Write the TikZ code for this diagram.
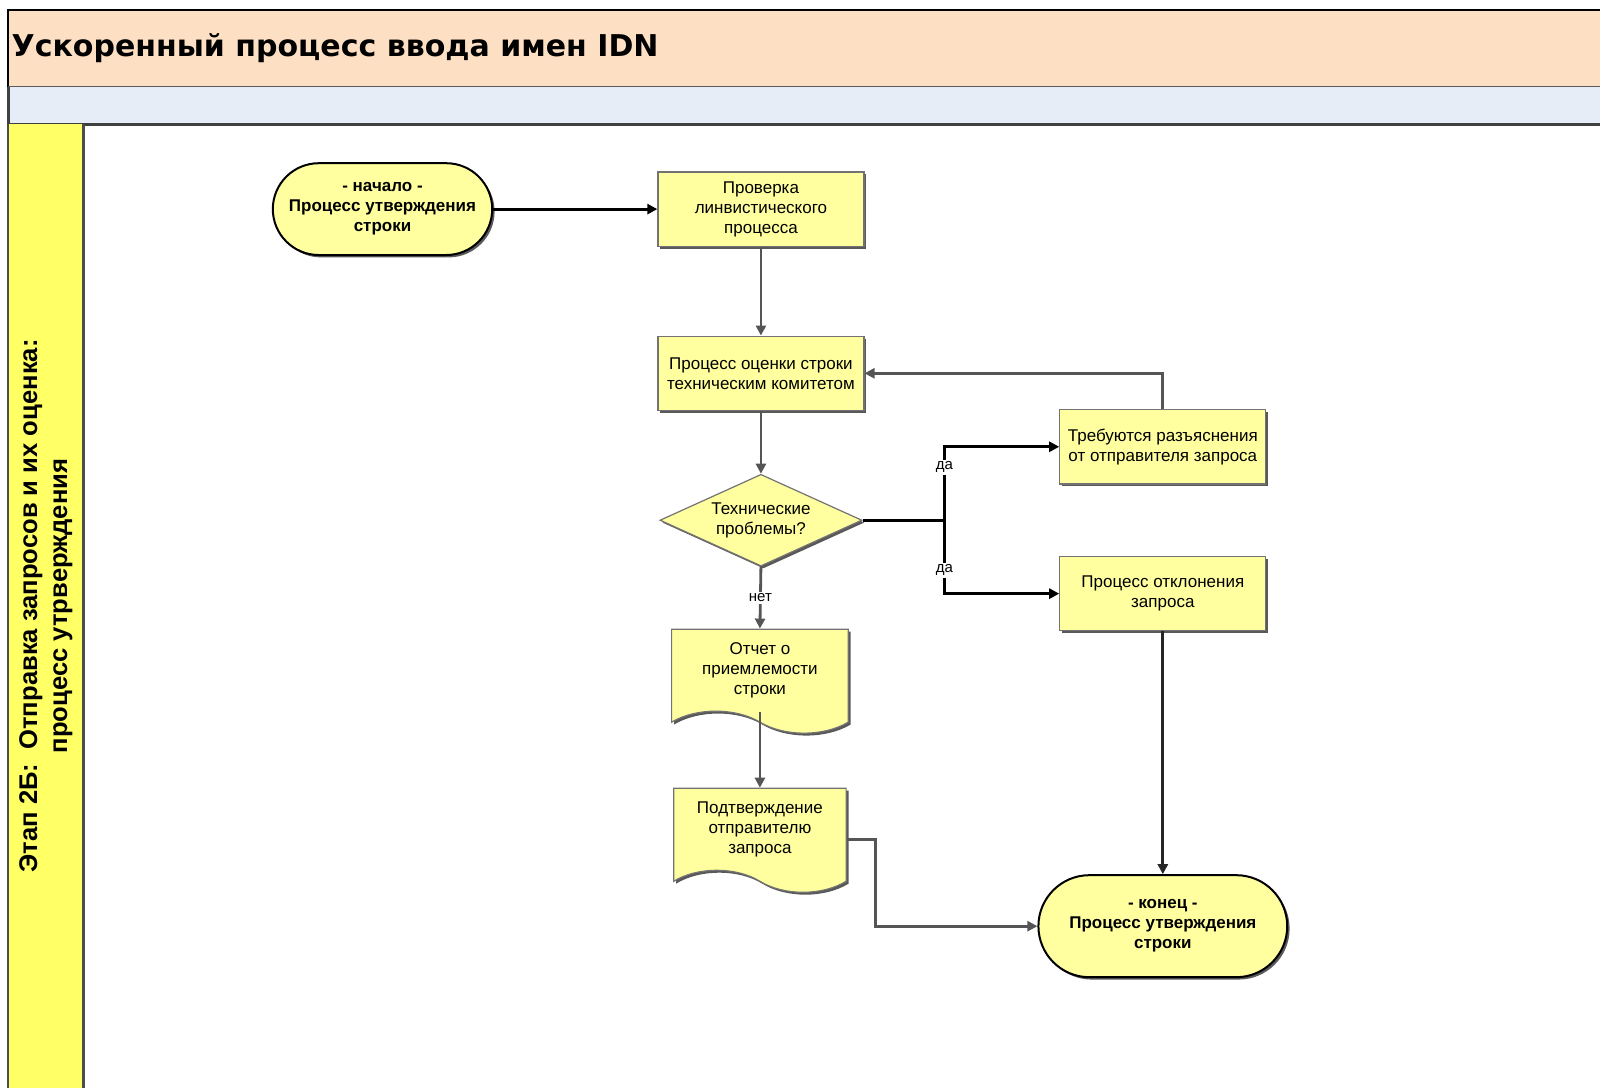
\documentclass[tikz,border=0pt]{standalone}
\usepackage{fontspec}
\setmainfont{Liberation Sans}
\newfontfamily\titlefont{DejaVu Sans}
\usetikzlibrary{shapes.geometric,shapes.symbols,shadows,arrows.meta,calc}

\definecolor{boxfill}{RGB}{255,255,160}
\definecolor{lanefill}{RGB}{255,255,102}
\definecolor{titlefill}{RGB}{253,224,196}
\definecolor{bandfill}{RGB}{230,237,247}
\definecolor{linkgray}{RGB}{85,85,85}

\tikzset{
  boxshadow/.style={drop shadow={shadow xshift=1.2pt,shadow yshift=-1.2pt,fill=black!65,opacity=1}},
  proc/.style={rectangle, draw=black!55, line width=0.6pt, fill=boxfill, boxshadow,
    minimum width=103pt, minimum height=37.2pt, inner sep=2pt, align=center,
    font=\fontsize{8.5}{10}\selectfont},
  term/.style={rectangle, rounded corners=23pt, draw=black, line width=1pt, fill=boxfill, boxshadow,
    minimum width=109.7pt, minimum height=45.9pt, align=center,
    font=\bfseries\fontsize{8.5}{10}\selectfont},
  doc/.style={tape, tape bend top=none, tape bend bottom=out and in, tape bend height=11pt,
    draw=black!55, line width=0.6pt, fill=boxfill, boxshadow,
    minimum height=52pt, inner sep=2pt, align=center,
    font=\fontsize{8.5}{10}\selectfont},
  decision/.style={diamond, aspect=2.2, draw=black!55, line width=0.6pt, fill=boxfill, boxshadow,
    minimum width=101pt, minimum height=45.9pt, inner sep=0pt, align=center,
    font=\fontsize{8.5}{10}\selectfont},
  link/.style={draw=black, line width=1.4pt, -{Triangle[length=5pt,width=5pt]}},
  glink/.style={link, draw=linkgray},
  lbl/.style={fill=white, inner sep=1pt, font=\fontsize{7.5}{9}\selectfont}
}

\begin{document}
\begin{tikzpicture}[x=0.51pt,y=0.51pt,yscale=-1,xscale=1]
\useasboundingbox (0,0) rectangle (1568.6,1066.7);

%Shape: Title band
\fill[titlefill] (8,10) rectangle (1568.6,85);
\draw[line width=1pt] (8,85) -- (8,10) -- (1568.6,10);
\draw[line width=1pt, draw=black!65] (8,85) -- (1568.6,85);
% Text Node
\node[anchor=base west, inner sep=0pt, font=\titlefont\bfseries\fontsize{15}{17}\selectfont] (title) at (11,55) {Ускоренный процесс ввода имен IDN};

%Shape: Light band
\fill[bandfill] (8,85) rectangle (1568.6,122);
\draw[line width=1.4pt, draw=black!75] (8,85) -- (8,122) -- (1568.6,122);

%Shape: Lane
\fill[lanefill] (8,122) rectangle (82,1066.7);
\draw[line width=1.2pt, draw=black!70] (8,122) -- (8,1066.7);
\draw[line width=1.2pt, draw=black!70] (82,122) -- (82,1066.7);
% Text Node
\node[rotate=90, align=center, font=\bfseries\fontsize{12.8}{15}\selectfont] (lane) at (45,594) {Этап 2Б:\ \ Отправка запросов и их оценка:\\процесс утрверждения};

%Shapes: flow
\node[term] (start) at (375,205) {- начало -\\Процесс утверждения\\строки};
\node[proc] (ling) at (746,205) {Проверка\\линвистического\\процесса};
\node[proc] (eval) at (746,366) {Процесс оценки строки\\техническим комитетом};
\node[decision] (tech) at (746,510) {Технические\\проблемы?};
\node[proc] (clar) at (1140,438) {Требуются разъяснения\\от отправителя запроса};
\node[proc] (rej) at (1140,582) {Процесс отклонения\\запроса};
\node[doc, minimum width=88.3pt] (rep) at (745,657) {Отчет о\\приемлемости\\строки};
\node[doc, minimum width=86.2pt] (conf) at (745,813) {Подтверждение\\отправителю\\запроса};
\node[term, rounded corners=25.5pt, minimum width=124.4pt, minimum height=51pt] (fin) at (1140,908) {- конец -\\Процесс утверждения\\строки};

%Straight Lines
\coordinate (fork) at (926,510);
\draw[link] (start) -- (ling);
\draw[glink] (ling) -- (eval);
\draw[glink] (eval) -- (tech);
\draw[line width=1.4pt] (tech.east) -- (fork);
\draw[link] (fork) |- (clar.west) node[lbl, pos=0.36] {да};
\draw[link] (fork) |- (rej.west) node[lbl, pos=0.34] {да};
\draw[glink] (clar.north) |- (eval.east);
\draw[glink] (tech.south) -- (rep.north) node[lbl, midway] {нет};
\draw[glink] (rep.south) -- (conf.north);
\draw[glink] ($(conf.east)+(0,10)$) -- ++(28,0) |- (fin.west);
\draw[link, draw=black!85] (rej.south) -- (fin.north);

\end{tikzpicture}
\end{document}
